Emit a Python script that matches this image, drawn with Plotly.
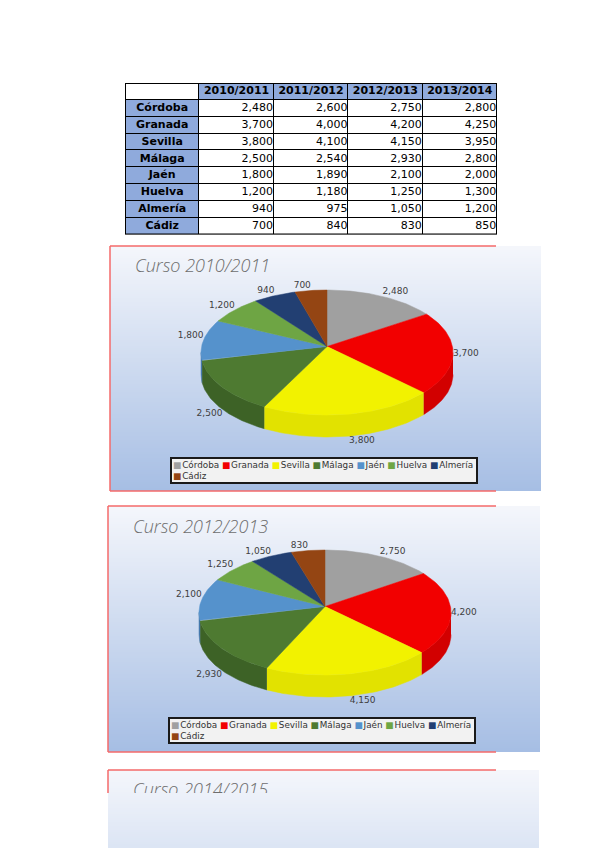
import numpy as np
import plotly.graph_objects as go

W, H = 599, 848
OFF = 8  # margen del body de la pagina

# datos de la tabla
provincias = ["Córdoba", "Granada", "Sevilla", "Málaga", "Jaén", "Huelva", "Almería", "Cádiz"]
cursos = ["2010/2011", "2011/2012", "2012/2013", "2013/2014"]
alumnos_2010_2011 = [2480, 3700, 3800, 2500, 1800, 1200, 940, 700]
alumnos_2011_2012 = [2600, 4000, 4100, 2540, 1890, 1180, 975, 840]
alumnos_2012_2013 = [2750, 4200, 4150, 2930, 2100, 1250, 1050, 830]
alumnos_2013_2014 = [2800, 4250, 3950, 2800, 2000, 1300, 1200, 850]
titulos = ["Curso 2010/2011", "Curso 2012/2013", "Curso 2014/2015"]

colores = ["#a0a0a0", "#f20000", "#f2f200", "#4e7a31", "#5592cc", "#6ea544", "#223f72", "#944513"]
colores_lado = ["#888888", "#d20000", "#e2e200", "#3d6226", "#4679ad", "#5a8a37", "#18305a", "#7a380f"]

AZUL = "#8faadc"
ROJO = "#f46a6a"
FONT = "DejaVu Sans"

# geometria del "3d" (pixeles locales de cada grafico)
CX, CY, RX, RY = 217, 106.5, 126, 62.5
APEX, DEPTH = 6, 22


def px_x(x):
    return (x - OFF) / W


def px_y(y):
    return 1 - (y - OFF) / H


fig = go.Figure()

# ---- tabla (celdas como heatmap sobre su propio eje)
columnas = [alumnos_2010_2011, alumnos_2011_2012, alumnos_2012_2013, alumnos_2013_2014]
n_fil, n_col = len(provincias) + 1, len(cursos) + 1
relleno = [[0] + [1] * len(cursos)] + [[1] + [0] * len(cursos) for _ in provincias]
fig.add_trace(go.Heatmap(
    z=relleno, x=list(range(n_col)), y=list(range(n_fil)),
    colorscale=[[0, "white"], [1, AZUL]], showscale=False, xgap=1, ygap=1,
    hoverinfo="skip", xaxis="x4", yaxis="y4"))

# cabecera y nombres de provincia, en negrita y centrados
fig.add_trace(go.Scatter(
    x=list(range(1, n_col)) + [0] * len(provincias),
    y=[0] * len(cursos) + list(range(1, n_fil)),
    mode="text", text=[f"<b>{c}</b>" for c in cursos] + [f"<b>{p}</b>" for p in provincias],
    textposition="middle center", textfont=dict(family=FONT, size=11, color="black"),
    hoverinfo="skip", showlegend=False, xaxis="x4", yaxis="y4"))

# valores alineados a la derecha
tx, ty, tt = [], [], []
for j, col in enumerate(columnas):
    for i, v in enumerate(col):
        tx.append(j + 1 + 0.49)
        ty.append(i + 1)
        tt.append(f"{v:,}")
fig.add_trace(go.Scatter(
    x=tx, y=ty, mode="text", text=tt, textposition="middle left",
    textfont=dict(family=FONT, size=11, color="black"), cliponaxis=False,
    hoverinfo="skip", showlegend=False, xaxis="x4", yaxis="y4"))

shapes = [
    dict(type="rect", xref="x4", yref="y4", x0=-0.5, x1=n_col - 0.5, y0=-0.5, y1=n_fil - 0.5,
         fillcolor="black", line=dict(width=0), layer="below"),
    dict(type="rect", xref="x4", yref="y4", x0=-0.5, x1=n_col - 0.5, y0=-0.5, y1=n_fil - 0.5,
         line=dict(color="black", width=2), layer="above"),
]


def fondo(x0, x1, top, bottom, full_h=246):
    # degradado vertical del fondo del grafico
    c0 = np.array([245, 247, 252])
    c1 = np.array([166, 190, 228])
    y = top
    while y < bottom:
        f = (y - top + 1) / full_h
        c = (c0 + (c1 - c0) * f).astype(int)
        shapes.append(dict(type="rect", xref="paper", yref="paper", x0=px_x(x0), x1=px_x(x1),
                           y0=px_y(y), y1=px_y(min(y + 2, bottom)),
                           fillcolor=f"rgb({c[0]},{c[1]},{c[2]})", line=dict(width=0), layer="below"))
        y += 2


def marco(x0, top, bottom, con_base=True):
    shapes.append(dict(type="line", xref="paper", yref="paper", x0=px_x(x0), x1=px_x(x0),
                       y0=px_y(top), y1=px_y(bottom), line=dict(color=ROJO, width=1.5)))
    shapes.append(dict(type="line", xref="paper", yref="paper", x0=px_x(x0), x1=px_x(496),
                       y0=px_y(top), y1=px_y(top), line=dict(color=ROJO, width=1.5)))
    if con_base:
        shapes.append(dict(type="line", xref="paper", yref="paper", x0=px_x(x0), x1=px_x(496),
                           y0=px_y(bottom), y1=px_y(bottom), line=dict(color=ROJO, width=1.5)))


fondo(110, 541, 246, 491)
marco(110, 246, 491)
fondo(108, 540, 506, 752)
marco(108, 506, 752)
fondo(108, 539, 770, 848 + OFF)
marco(108, 770, 793, con_base=False)


def tarta_3d(valores, xa, ya):
    total = sum(valores)
    lim = np.cumsum([0] + list(valores)) / total * 2 * np.pi
    # laterales (solo mitad delantera)
    for i in range(len(valores)):
        a, b = max(lim[i], np.pi / 2), min(lim[i + 1], 3 * np.pi / 2)
        if b <= a:
            continue
        t = np.linspace(a, b, 60)
        xs = CX + RX * np.sin(t)
        ys = CY - RY * np.cos(t)
        fig.add_trace(go.Scatter(
            x=np.concatenate([xs, xs[::-1]]), y=np.concatenate([ys, ys[::-1] + DEPTH]),
            fill="toself", fillcolor=colores_lado[i], mode="lines",
            line=dict(color=colores_lado[i], width=0.5), hoverinfo="skip",
            showlegend=False, xaxis=xa, yaxis=ya))
    # caras superiores
    for i in range(len(valores)):
        t = np.linspace(lim[i], lim[i + 1], 60)
        xs = np.concatenate([[CX], CX + RX * np.sin(t), [CX]])
        ys = np.concatenate([[CY - APEX], CY - RY * np.cos(t), [CY - APEX]])
        fig.add_trace(go.Scatter(
            x=xs, y=ys, fill="toself", fillcolor=colores[i], mode="lines",
            line=dict(color=colores[i], width=0.5), name=provincias[i],
            showlegend=False, xaxis=xa, yaxis=ya))
    # etiquetas
    mid = (lim[:-1] + lim[1:]) / 2
    s, c = np.sin(mid), np.cos(mid)
    lx = CX + RX * s
    ly = CY - RY * c + np.where(c < -0.3, DEPTH, 0)
    pos = []
    for si, ci in zip(s, c):
        v = "top" if ci > 0.15 else ("bottom" if ci < -0.3 else "middle")
        h = "right" if si >= 0 else "left"
        pos.append(f"{v} {h}")
    fig.add_trace(go.Scatter(
        x=lx, y=ly, mode="text", text=[f"{v:,}" for v in valores], textposition=pos,
        textfont=dict(family=FONT, size=9, color="#404040"), cliponaxis=False,
        hoverinfo="skip", showlegend=False, xaxis=xa, yaxis=ya))


def titulo(texto, xa, ya, y):
    fig.add_trace(go.Scatter(
        x=[25], y=[y], mode="text", text=[texto], textposition="middle right",
        textfont=dict(family="Open Sans", size=18, color="#6e6e6e", style="italic", weight=300),
        cliponaxis=True, hoverinfo="skip", showlegend=False, xaxis=xa, yaxis=ya))


def leyenda(xref, yref):
    items = [f'<span style="color:{colores[i]}">■</span>\u200a{provincias[i]}' for i in range(len(provincias))]
    texto = " ".join(items[:7]) + "<br>" + " ".join(items[7:])
    return dict(x=60, y=211, xref=xref, yref=yref, xanchor="left", yanchor="top",
                text=texto, showarrow=False, align="left", width=302,
                font=dict(family=FONT, size=8.8, color="#333333"),
                bgcolor="#f2f2f2", bordercolor="#1a1a1a", borderwidth=2, borderpad=1)


tarta_3d(alumnos_2010_2011, "x", "y")
titulo(titulos[0], "x", "y", 21)
tarta_3d(alumnos_2012_2013, "x2", "y2")
titulo(titulos[1], "x2", "y2", 22)
titulo(titulos[2], "x3", "y3", 21)

ejes = dict(visible=False, fixedrange=True)
fig.update_layout(
    width=W, height=H, margin=dict(l=0, r=0, t=0, b=0),
    paper_bgcolor="white", plot_bgcolor="rgba(0,0,0,0)",
    showlegend=False, shapes=shapes,
    annotations=[leyenda("x", "y"), leyenda("x2", "y2")],
    xaxis=dict(domain=[px_x(110), px_x(541)], range=[0, 431], anchor="y", **ejes),
    yaxis=dict(domain=[px_y(491), px_y(246)], range=[245, 0], anchor="x", **ejes),
    xaxis2=dict(domain=[px_x(108), px_x(540)], range=[0, 432], anchor="y2", **ejes),
    yaxis2=dict(domain=[px_y(752), px_y(506)], range=[246, 0], anchor="x2", **ejes),
    xaxis3=dict(domain=[px_x(108), px_x(539)], range=[0, 431], anchor="y3", **ejes),
    yaxis3=dict(domain=[px_y(793), px_y(770)], range=[23, 0], anchor="x3", **ejes),
    xaxis4=dict(domain=[px_x(125), px_x(497)], range=[-0.5, n_col - 0.5], anchor="y4", **ejes),
    yaxis4=dict(domain=[px_y(234.5), px_y(83)], range=[n_fil - 0.5, -0.5], anchor="x4", **ejes),
)

fig.write_html("out.html")
